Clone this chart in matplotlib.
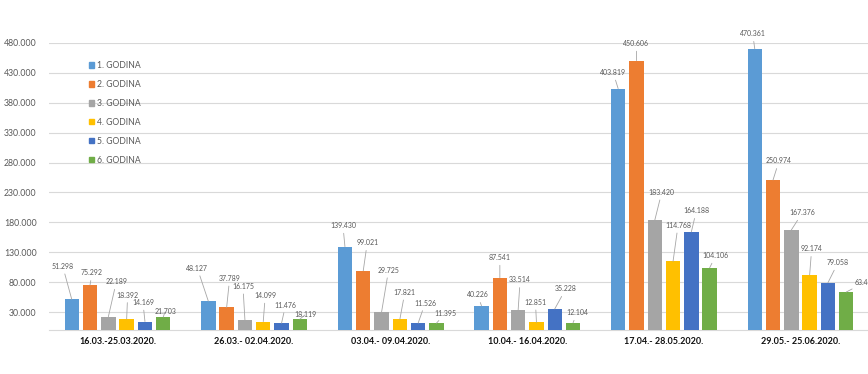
import numpy as np
import matplotlib
matplotlib.use("Agg")
import matplotlib.pyplot as plt
from matplotlib.patches import Patch

plt.rcParams['font.family'] = ['Lato', 'DejaVu Sans']

# data
periods = ["16.03.-25.03.2020.", "26.03.- 02.04.2020.", "03.04.- 09.04.2020.",
           "10.04.- 16.04.2020.", "17.04.- 28.05.2020.", "29.05.- 25.06.2020."]
series_names = ["1. GODINA", "2. GODINA", "3. GODINA", "4. GODINA", "5. GODINA", "6. GODINA"]
godina_1 = [51298, 48127, 139430, 40226, 403819, 470361]
godina_2 = [75292, 37789, 99021, 87541, 450606, 250974]
godina_3 = [22189, 16175, 29725, 33514, 183420, 167376]
godina_4 = [18392, 14099, 17821, 12851, 114768, 92174]
godina_5 = [14169, 11476, 11526, 35228, 164188, 79058]
godina_6 = [21703, 18119, 11395, 12104, 104106, 63494]
yticks = [30000, 80000, 130000, 180000, 230000, 280000, 330000, 380000, 430000, 480000]

series = [godina_1, godina_2, godina_3, godina_4, godina_5, godina_6]
colors = ['#5B9BD5', '#ED7D31', '#A5A5A5', '#FFC000', '#4472C4', '#70AD47']

# data label offsets (pixels, x right / y up) per series, per period
label_dx = [[-9, -11, -2, -4, -5, -2],
            [2, 3, 4, 0, 0, 6],
            [8, -2, 7, 2, 7, 11],
            [1, 2, 5, -1, 5, 2],
            [-2, 4, 7, 11, 5, 10],
            [2, 6, 9, 4, 6, 19]]
label_dy = [[33, 33, 21, 11, 16, 15],
            [12, 29, 28, 20, 17, 19],
            [35, 34, 42, 30, 28, 17],
            [24, 26, 27, 20, 36, 26],
            [19, 18, 20, 20, 21, 20],
            [6, 5, 10, 10, 12, 10]]


def fmt(v):
    return f"{v:,}".replace(",", ".")


fig = plt.figure(figsize=(8.68, 3.74), dpi=100)
ax = fig.add_axes([49.2 / 868, 44 / 374, 819.6 / 868, 287 / 374])

x = np.arange(len(periods))
pitch = 0.134
width = 0.105
for i, (vals, col, name) in enumerate(zip(series, colors, series_names)):
    xs = x + (i - 2.5) * pitch
    ax.bar(xs, vals, width=width, color=col, zorder=3, label=name)
    for j, v in enumerate(vals):
        ax.annotate(fmt(v), xy=(xs[j], v), xytext=(label_dx[i][j], label_dy[i][j]),
                    textcoords='offset pixels', ha='center', va='center',
                    fontsize=5, color='#595959', annotation_clip=False,
                    arrowprops=dict(arrowstyle='-', color='#a6a6a6', lw=0.6,
                                    shrinkA=1, shrinkB=0))

ax.set_xlim(-0.5, len(periods) - 0.5)
ax.set_ylim(0, 480000)
ax.set_yticks(yticks)
ax.set_yticklabels([fmt(t) for t in yticks], fontsize=6.3, color='#595959')
ax.set_xticks(x)
ax.set_xticklabels(periods, fontsize=6.5, fontweight='bold', color='#111111')
ax.tick_params(axis='both', length=0)
ax.tick_params(axis='x', pad=5)
ax.tick_params(axis='y', pad=9)
ax.grid(axis='y', color='#d9d9d9', lw=0.8, zorder=0)
for s in ['left', 'right', 'top']:
    ax.spines[s].set_visible(False)
ax.spines['bottom'].set_color('#d9d9d9')

handles = [Patch(color=c) for c in colors]
ax.legend(handles, series_names, loc='upper left',
          bbox_to_anchor=(89 / 868, 1 - 61 / 374),
          bbox_transform=fig.transFigure, frameon=False, fontsize=6.2,
          labelcolor='#595959', handlelength=0.6, handleheight=0.6,
          handletextpad=0.3, labelspacing=1.15, borderaxespad=0, borderpad=0)

fig.savefig("out.png", dpi=100)
